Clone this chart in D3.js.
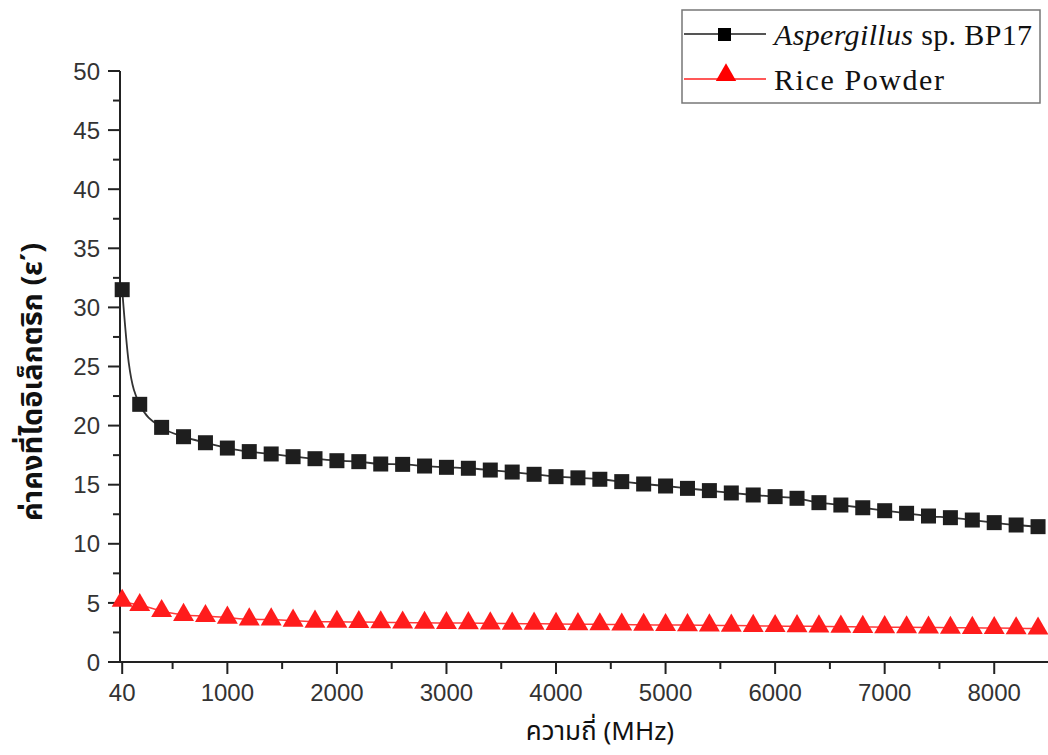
<!DOCTYPE html>
<html><head><meta charset="utf-8">
<script src="https://cdn.jsdelivr.net/npm/d3@7"></script>
<style>body{margin:0;background:#fff}svg{display:block}</style>
</head><body><svg id="c" width="1048" height="755"></svg>
<script>
const freqs = [40,100,200,400,600,800,1000,1200,1400,1600,1800,2000,2200,2400,2600,2800,3000,3200,3400,3600,3800,4000,4200,4400,4600,4800,5000,5200,5400,5600,5800,6000,6200,6400,6600,6800,7000,7200,7400,7600,7800,8000,8200,8400];
const aspergillus = [31.5,25.3,21.8,19.85,19.06,18.55,18.1,17.8,17.6,17.37,17.2,17.03,16.95,16.75,16.72,16.58,16.47,16.39,16.24,16.07,15.88,15.68,15.58,15.46,15.26,15.06,14.89,14.69,14.5,14.3,14.13,13.99,13.85,13.48,13.28,13.05,12.8,12.58,12.35,12.21,12.01,11.79,11.59,11.45];
const ricePowder = [5.18,5.0,4.82,4.31,3.98,3.89,3.75,3.61,3.6,3.5,3.41,3.4,3.38,3.36,3.34,3.32,3.3,3.29,3.27,3.25,3.24,3.22,3.2,3.19,3.17,3.15,3.13,3.12,3.1,3.08,3.06,3.04,3.03,3.01,2.99,2.97,2.95,2.94,2.92,2.9,2.89,2.87,2.85,2.83];
const markedFreqs = freqs.filter(f => f !== 100);
const xTicks = [40,1000,2000,3000,4000,5000,6000,7000,8000];
const xMinorTicks = [500,1500,2500,3500,4500,5500,6500,7500,8500];
const yTicks = [0,5,10,15,20,25,30,35,40,45,50];
const yMinorTicks = [2.5,7.5,12.5,17.5,22.5,27.5,32.5,37.5,42.5,47.5];
const seriesNames = ["Aspergillus", " sp. BP17", "Rice Powder"];
const xTitle = "ความถี่ (MHz)";
const yTitle = "ค่าคงที่ไดอิเล็กตริก (ε΄)";

const svg = d3.select("#c");
const x = d3.scaleLinear().domain([20, 8500]).range([120, 1049]);
const y = d3.scaleLinear().domain([0, 50]).range([662, 71]);
const axisColor = "#222";
const tickFont = "Liberation Sans, Arial, sans-serif";

// x axis
const gx = svg.append("g").attr("transform", "translate(0,662)");
gx.append("line").attr("x1", 119).attr("x2", 1048).attr("stroke", axisColor).attr("stroke-width", 2);
gx.selectAll(".mj").data(xTicks).join("line").attr("x1", d => x(d)).attr("x2", d => x(d)).attr("y1", 0).attr("y2", 12).attr("stroke", axisColor).attr("stroke-width", 2);
gx.selectAll(".mn").data(xMinorTicks).join("line").attr("x1", d => x(d)).attr("x2", d => x(d)).attr("y1", 0).attr("y2", 7).attr("stroke", axisColor).attr("stroke-width", 2);
gx.selectAll("text").data(xTicks).join("text").attr("x", d => x(d)).attr("y", 39).attr("text-anchor", "middle")
  .attr("font-family", tickFont).attr("font-size", 24).attr("fill", "#333").text(d => d);

// y axis
const gy = svg.append("g").attr("transform", "translate(120,0)");
gy.append("line").attr("y1", y(50)).attr("y2", 663).attr("stroke", axisColor).attr("stroke-width", 2);
gy.selectAll(".mj").data(yTicks).join("line").attr("y1", d => y(d)).attr("y2", d => y(d)).attr("x1", 0).attr("x2", -12).attr("stroke", axisColor).attr("stroke-width", 2);
gy.selectAll(".mn").data(yMinorTicks).join("line").attr("y1", d => y(d)).attr("y2", d => y(d)).attr("x1", 0).attr("x2", -7).attr("stroke", axisColor).attr("stroke-width", 2);
gy.selectAll("text").data(yTicks).join("text").attr("x", -20).attr("y", d => y(d)).attr("dy", "0.36em").attr("text-anchor", "end")
  .attr("font-family", tickFont).attr("font-size", 24).attr("fill", "#333").text(d => d);

// titles
svg.append("text").attr("x", 600).attr("y", 740).attr("text-anchor", "middle")
  .attr("font-family", "Noto Sans Thai, Noto Sans, sans-serif").attr("font-size", 26).attr("fill", "#111").text(xTitle);
svg.append("text").attr("transform", "translate(42,382) rotate(-90)").attr("text-anchor", "middle")
  .attr("font-family", "Noto Sans Thai, Noto Sans, sans-serif").attr("font-weight", "bold").attr("font-size", 29).attr("fill", "#111").text(yTitle);

// lines
const lineGen = d3.line().x(d => x(d[0])).y(d => y(d[1])).curve(d3.curveMonotoneX);
const blackData = freqs.map((f, i) => [f, aspergillus[i]]);
const redData = freqs.map((f, i) => [f, ricePowder[i]]);
svg.append("path").datum(redData).attr("d", lineGen).attr("fill", "none").attr("stroke", "#ff3b3b").attr("stroke-width", 1.5);
svg.append("path").datum(blackData).attr("d", lineGen).attr("fill", "none").attr("stroke", "#333").attr("stroke-width", 1.8);

const tri = d3.symbol().type(d3.symbolTriangle).size(190);
svg.selectAll(".tri").data(redData.filter(d => markedFreqs.includes(d[0]))).join("path")
  .attr("transform", d => `translate(${x(d[0])},${y(d[1])})`).attr("d", tri).attr("fill", "#ff1c1c");
const sq = 15;
svg.selectAll(".sq").data(blackData.filter(d => markedFreqs.includes(d[0]))).join("rect")
  .attr("x", d => x(d[0]) - sq/2).attr("y", d => y(d[1]) - sq/2).attr("width", sq).attr("height", sq).attr("fill", "#1e1e1e");

// legend
const lg = svg.append("g");
lg.append("rect").attr("x", 682).attr("y", 10).attr("width", 358).attr("height", 93).attr("fill", "#fff").attr("stroke", "#777").attr("stroke-width", 1.5);
lg.append("line").attr("x1", 684).attr("x2", 766).attr("y1", 34).attr("y2", 34).attr("stroke", "#555").attr("stroke-width", 2);
lg.append("rect").attr("x", 718).attr("y", 28).attr("width", 13).attr("height", 13).attr("fill", "#000");
lg.append("line").attr("x1", 684).attr("x2", 766).attr("y1", 79).attr("y2", 79).attr("stroke", "#ff2020").attr("stroke-width", 1.5);
lg.append("path").attr("transform", "translate(726,75)").attr("d", d3.symbol().type(d3.symbolTriangle).size(180)).attr("fill", "#ff0000");
const t1 = lg.append("text").attr("x", 774).attr("y", 45).attr("font-family", "Liberation Serif, DejaVu Serif, serif").attr("font-size", 30).attr("fill", "#111").attr("textLength", 258);
t1.append("tspan").attr("font-style", "italic").text(seriesNames[0]);
t1.append("tspan").text(seriesNames[1]);
lg.append("text").attr("x", 774).attr("y", 90).attr("font-family", "Liberation Serif, DejaVu Serif, serif").attr("font-size", 30).attr("fill", "#111").attr("textLength", 170).text(seriesNames[2]);
</script></body></html>
